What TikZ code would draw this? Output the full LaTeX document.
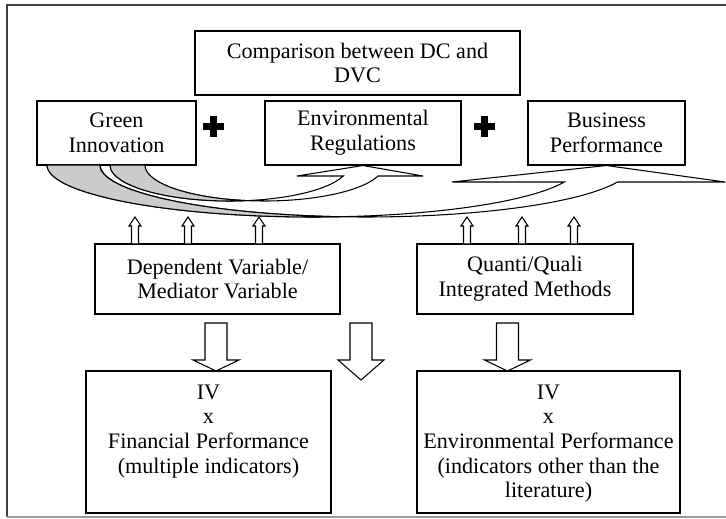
\documentclass[tikz,border=0pt]{standalone}
\usepackage{fontspec}
\setmainfont{Liberation Serif}
\usepackage{xcolor}

\begin{document}
\begin{tikzpicture}[
    scale=1.0,
    font=\fontsize{12.6}{14}\selectfont,
    box/.style={draw, line width=0.6pt, align=center, inner sep=0pt},
    blockarrow/.style={draw, line width=0.6pt, fill=white},
    band/.style={draw, line width=0.6pt, fill=white},
]

\useasboundingbox (0,0) rectangle (14.52,10.36);

% Frame
\draw[line width=1.1pt, black!75] (14.6,10.26) -- (0.14,10.26) -- (0.14,0.02);
\draw[line width=1.1pt, black!40] (0.14,0.02) -- (14.6,0.02);

% Top row
\node[box, minimum width=6.5cm, minimum height=1.28cm] (title) at (7.15, 9.10) {Comparison between DC and\\DVC};
\node[box, minimum width=3.18cm, minimum height=1.28cm] (green) at (2.33, 7.70) {Green\\Innovation};
\node[box, minimum width=3.92cm, minimum height=1.28cm] (env) at (7.26, 7.70) {Environmental\\Regulations};
\node[box, minimum width=3.14cm, minimum height=1.28cm] (bus) at (12.13, 7.70) {Business\\Performance};

% Plus signs
\foreach \px in {4.26, 9.68} {
    \fill (\px-0.21,7.75) rectangle (\px+0.21,7.89);
    \fill (\px-0.07,7.61) rectangle (\px+0.07,8.03);
}

% Curved arrow to Business Performance
\path[band] (0.94,7.06) arc[start angle=180, end angle=340.9, x radius=5.32, y radius=1.04]
    -- (9.04,6.72) -- (bus.south) -- (14.50,6.72) -- (12.35,6.72)
    arc[start angle=340.9, end angle=180, x radius=5.32, y radius=1.04] -- cycle;
\filldraw[fill=black!20, line width=0.6pt] (0.94,7.06)
    arc[start angle=180, end angle=275.7, x radius=5.32, y radius=1.04]
    arc[start angle=264.3, end angle=180, x radius=5.32, y radius=1.04] -- cycle;

% Curved arrow to Environmental Regulations
\path[band] (2.20,7.06) arc[start angle=180, end angle=342.2, x radius=2.39, y radius=0.72]
    -- (5.94,6.84) -- (env.south) -- (8.46,6.84) -- (7.56,6.84)
    arc[start angle=342.2, end angle=180, x radius=2.39, y radius=0.72] -- cycle;
\filldraw[fill=black!20, line width=0.6pt] (2.20,7.06)
    arc[start angle=180, end angle=278.4, x radius=2.39, y radius=0.72]
    arc[start angle=261.6, end angle=180, x radius=2.39, y radius=0.72] -- cycle;

% Middle row
\node[box, minimum width=4.90cm, minimum height=1.40cm] (dep) at (4.35, 4.78) {Dependent Variable/\\Mediator Variable};
\node[box, minimum width=4.32cm, minimum height=1.40cm] (meth) at (10.50, 4.78) {Quanti/Quali\\Integrated Methods};

% Small up arrows
\foreach \ax in {2.70, 3.76, 5.18, 9.34, 10.44, 11.48}
    \draw[blockarrow] (\ax-0.07,5.48) -- (\ax-0.07,5.84) -- (\ax-0.12,5.84) -- (\ax,6.02)
        -- (\ax+0.12,5.84) -- (\ax+0.07,5.84) -- (\ax+0.07,5.48) -- cycle;

% Down arrows
\foreach \ax/\tip in {4.32/2.94, 7.22/2.76, 10.15/2.94}
    \draw[blockarrow] (\ax-0.22,3.90) -- (\ax-0.22,3.16) -- (\ax-0.46,3.16) -- (\ax,\tip)
        -- (\ax+0.46,3.16) -- (\ax+0.22,3.16) -- (\ax+0.22,3.90) -- cycle;

% Bottom row
\node[box, minimum width=4.90cm, minimum height=2.84cm] (ivfin) at (4.17, 1.52) {};
\node[anchor=north, align=center, inner sep=0pt] (ivfintext) at ([yshift=-0.28cm]ivfin.north)
    {IV\\x\\Financial Performance\\(multiple indicators)};
\node[box, minimum width=5.26cm, minimum height=2.84cm] (ivenv) at (10.97, 1.52) {};
\node[anchor=north, align=center, inner sep=0pt] (ivenvtext) at ([yshift=-0.28cm]ivenv.north)
    {IV\\x\\Environmental Performance\\(indicators other than the\\literature)};

\end{tikzpicture}
\end{document}
